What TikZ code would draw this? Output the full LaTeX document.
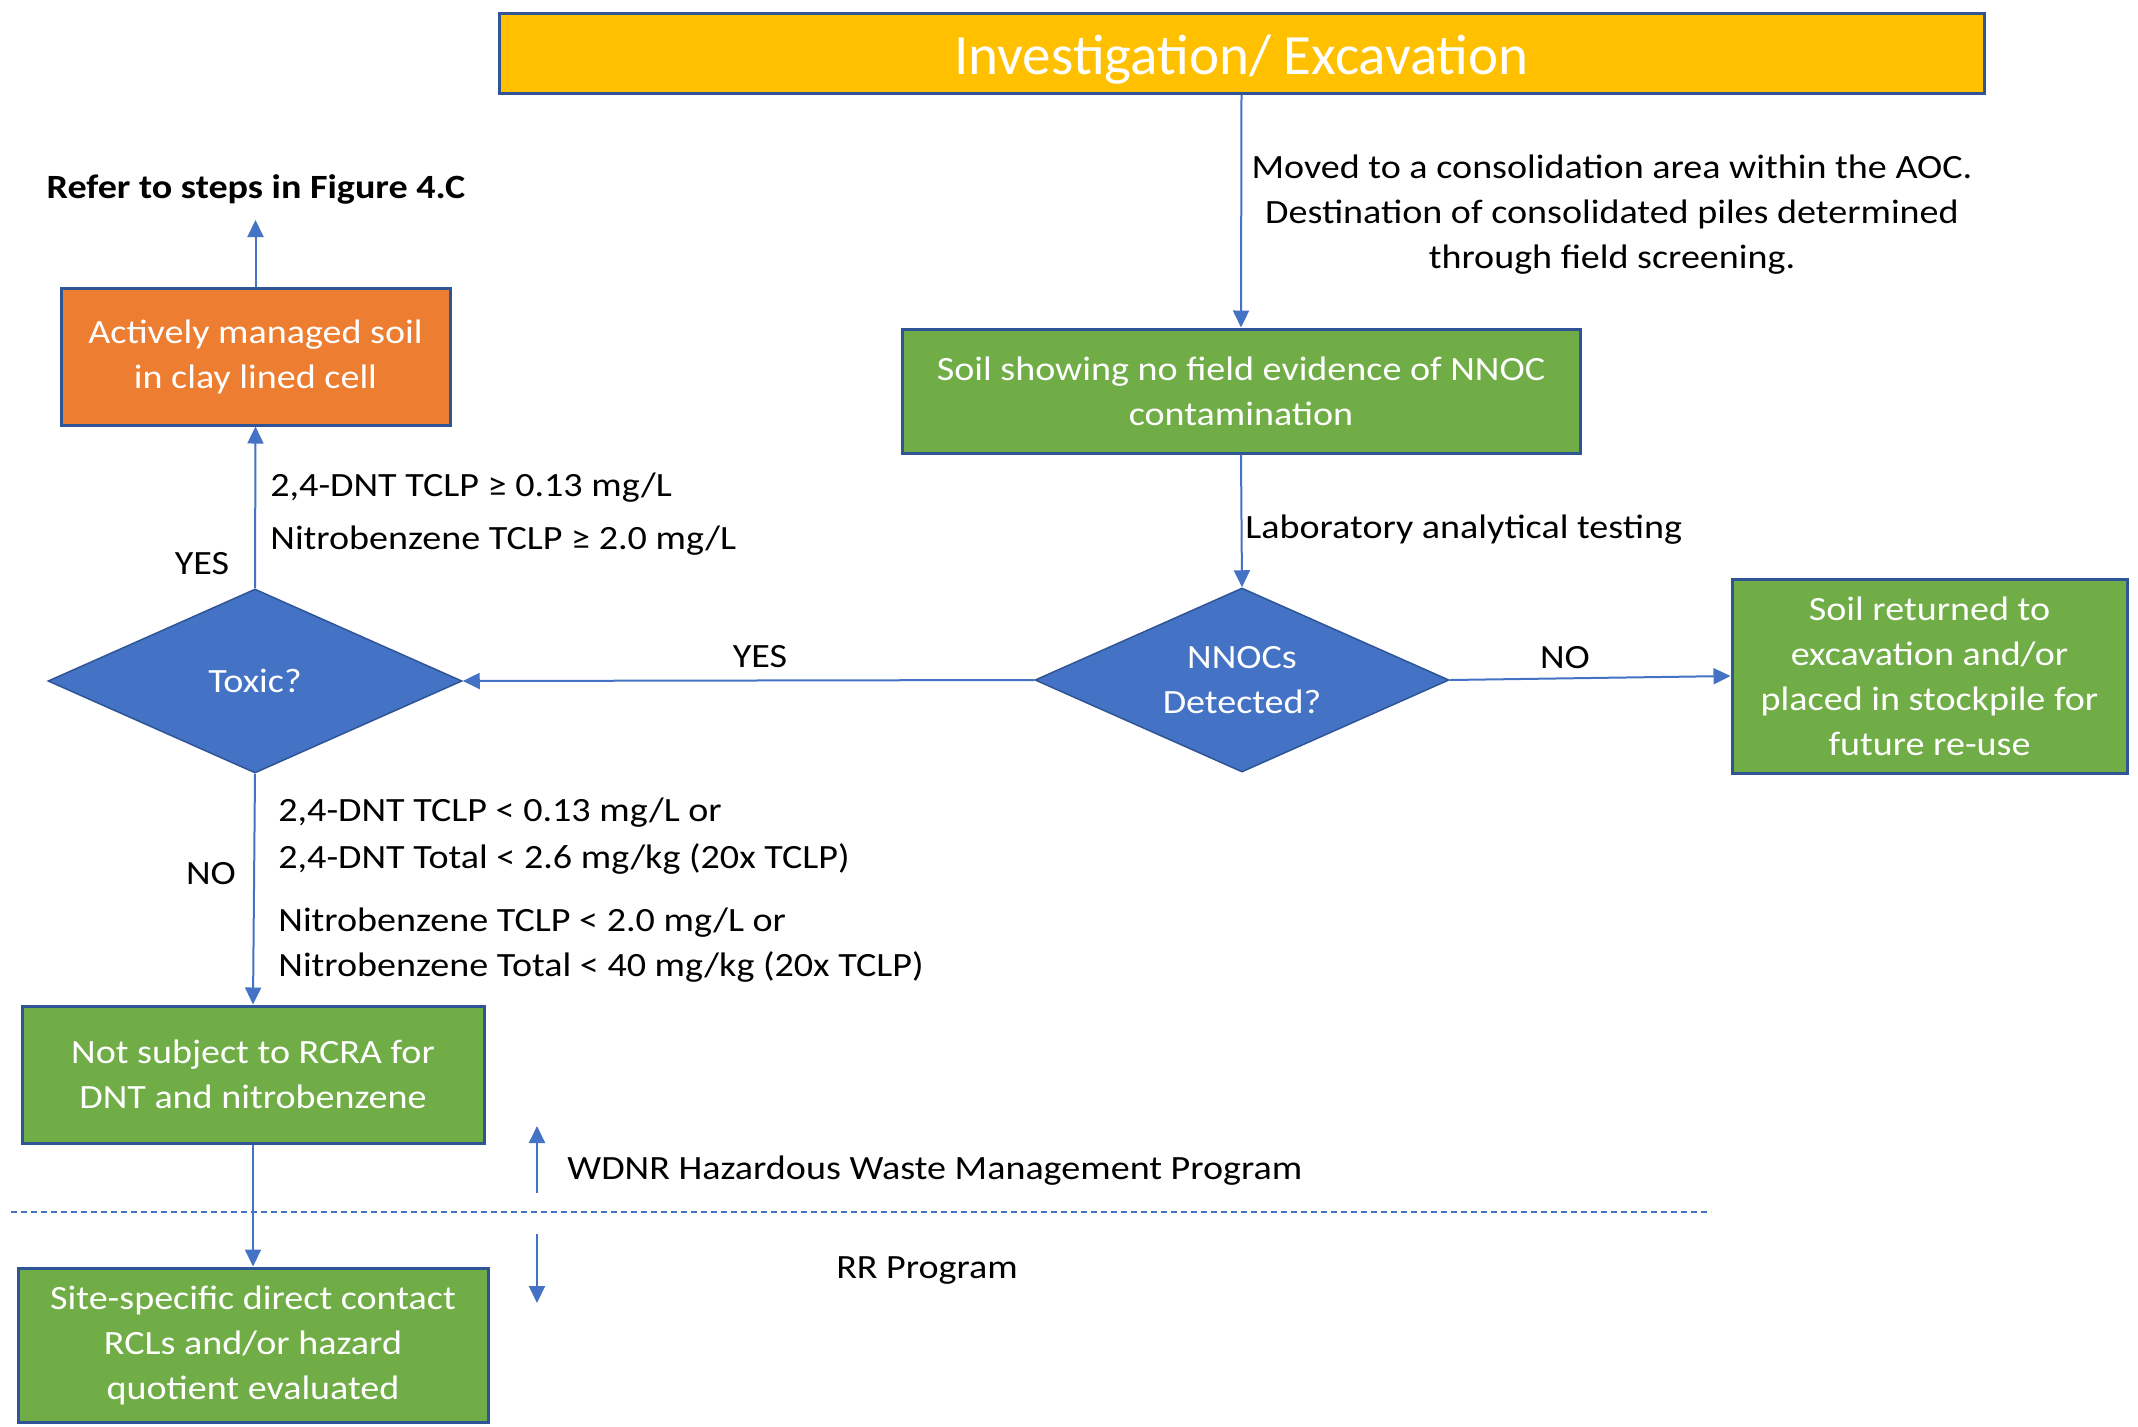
\documentclass[tikz,border=0pt]{standalone}
\usepackage{fontspec}
\setmainfont{Carlito}
\newfontfamily\bodyfont{Carlito}[FakeStretch=1.12]
\usetikzlibrary{shapes.geometric,arrows.meta}
\definecolor{cYellow}{HTML}{FFC000}
\definecolor{cGreen}{HTML}{70AD47}
\definecolor{cOrange}{HTML}{ED7D31}
\definecolor{cBlue}{HTML}{4472C4}
\definecolor{cEdge}{HTML}{2F5597}

\begin{document}
\begin{tikzpicture}[x=0.5pt,y=-0.5pt,
  txt/.style={font=\bodyfont\fontsize{17}{22.5}\selectfont},
  box/.style={txt,rectangle,draw=cEdge,line width=1.5pt,text=white,align=center,inner sep=0pt},
  dec/.style={txt,diamond,draw=cEdge,line width=0.75pt,fill=cBlue,text=white,align=center,
    inner sep=0pt,minimum width=207pt,minimum height=92pt,shape aspect=2.25},
  lbl/.style={txt,inner sep=0pt,text height=13pt,text depth=2pt},
  conn/.style={draw=cBlue,line width=1pt,-{Triangle[length=8.5pt,width=8pt]}},
]
\useasboundingbox[fill=white] (0,0) rectangle (2138,1426);

% boxes
\node[box,fill=cYellow,minimum width=742.5pt,minimum height=40pt,
      font=\fontsize{28.5}{34}\selectfont,text height=21.4pt,text depth=0pt] (top) at (1241.5,53) {Investigation/ Excavation};
\node[box,fill=cGreen,minimum width=339pt,minimum height=62pt] (soil) at (1241,391)
  {Soil showing no field evidence of NNOC\\contamination};
\node[box,fill=cGreen,minimum width=197.5pt,minimum height=97pt] (ret) at (1929.5,676)
  {Soil returned to\\excavation and/or\\placed in stockpile for\\future re-use};
\node[box,fill=cOrange,minimum width=194.5pt,minimum height=68.5pt] (active) at (255.5,356.5)
  {Actively managed soil\\in clay lined cell};
\node[box,fill=cGreen,minimum width=231pt,minimum height=68.5pt] (rcra) at (253,1074.5)
  {Not subject to RCRA for\\DNT and nitrobenzene};
\node[box,fill=cGreen,minimum width=235pt,minimum height=77pt] (site) at (253,1345)
  {Site-specific direct contact\\RCLs and/or hazard\\quotient evaluated};

% decisions
\node[dec] (nnoc) at (1242,680) {NNOCs\\Detected?};
\node[dec] (toxic) at (255,681) {Toxic?};

% free ends
\coordinate (referTip) at (255.5,220);
\coordinate (upFrom) at (537,1193);
\coordinate (upTo) at (537,1126);
\coordinate (downFrom) at (537,1234);
\coordinate (downTo) at (537,1303);
\coordinate (divL) at (11,1212);
\coordinate (divR) at (1711,1212);

% connectors
\draw[conn] (top.south) -- (soil.north);
\draw[conn] (soil.south) -- (nnoc.north);
\draw[conn] (nnoc.east) -- (ret.west);
\draw[conn] (nnoc.west) -- (toxic.east);
\draw[conn] (toxic.north) -- (active.south);
\draw[conn] (active.north) -- (referTip);
\draw[conn] (toxic.south) -- (rcra.north);
\draw[conn] (rcra.south) -- (site.north);
\draw[conn] (upFrom) -- (upTo);
\draw[conn] (downFrom) -- (downTo);
\draw[draw=cBlue,line width=1pt,dash pattern=on 3pt off 2pt] (divL) -- (divR);

% labels
\node[txt,align=center] (moved) at (1612,215)
  {Moved to a consolidation area within the AOC.\\Destination of consolidated piles determined\\through field screening.};
\node[lbl,anchor=west] (lab) at (1245,527) {Laboratory analytical testing};
\node[lbl] (noR) at (1565,657) {NO};
\node[lbl] (yesL) at (760,656) {YES};
\node[lbl,font=\bodyfont\fontsize{17}{22.5}\selectfont\bfseries] (refer) at (256,187) {Refer to steps in Figure 4.C};
\node[lbl] (yesUp) at (202,563) {YES};
\node[lbl,anchor=west] (up1) at (270,485) {2,4-DNT TCLP ≥ 0.13 mg/L};
\node[lbl,anchor=west] (up2) at (270,538) {Nitrobenzene TCLP ≥ 2.0 mg/L};
\node[lbl] (noDown) at (211,873) {NO};
\node[lbl,anchor=west] (dn1) at (278,810) {2,4-DNT TCLP < 0.13 mg/L or};
\node[lbl,anchor=west] (dn2) at (278,857) {2,4-DNT Total < 2.6 mg/kg (20x TCLP)};
\node[lbl,anchor=west] (dn3) at (278,920) {Nitrobenzene TCLP < 2.0 mg/L or};
\node[lbl,anchor=west] (dn4) at (278,965) {Nitrobenzene Total < 40 mg/kg (20x TCLP)};
\node[lbl,anchor=west] (wdnr) at (567,1168) {WDNR Hazardous Waste Management Program};
\node[lbl] (rr) at (927,1267) {RR Program};
\end{tikzpicture}
\end{document}
